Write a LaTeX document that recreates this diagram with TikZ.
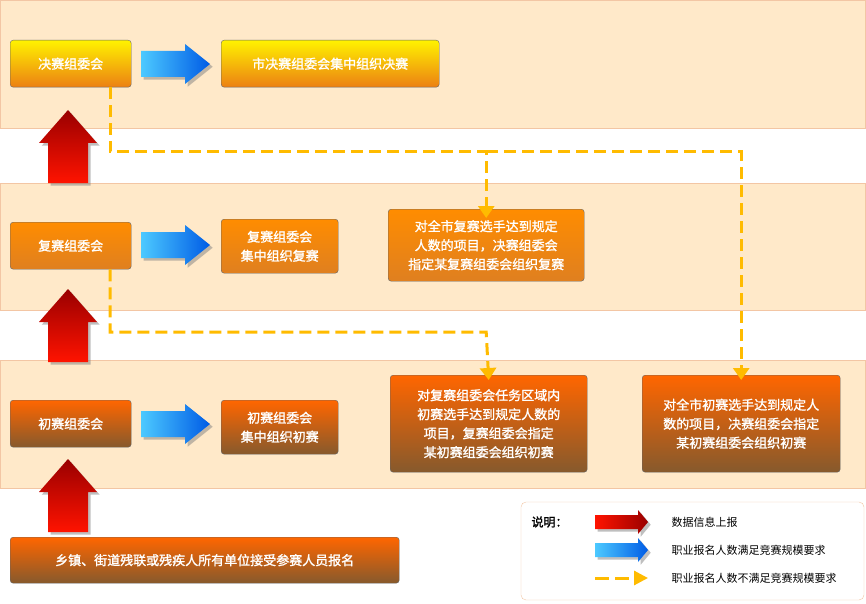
\documentclass[tikz,border=0pt]{standalone}
\usepackage{fontspec}
\setmainfont{Noto Sans CJK SC}[AutoFakeBold=1.5]
\usetikzlibrary{arrows.meta,positioning,shadows}

\definecolor{bandfill}{HTML}{FFE9C9}
\definecolor{bandline}{HTML}{F3C6A4}
\definecolor{dashc}{HTML}{FFBB00}

\tikzset{
  band/.style={fill=bandfill, draw=bandline},
  box/.style={draw=gray!80!black, rounded corners=3pt, text=white, font=\bfseries\fontsize{13}{19}\selectfont, align=center, inner sep=0pt, anchor=north west},
  jbox/.style={box, top color=yellow!90!orange, bottom color=orange!70!brown},
  fbox/.style={box, top color=orange!90!yellow, bottom color=orange!50!brown},
  cbox/.style={box, top color=orange!80!red, bottom color=brown!70!black},
  flow/.style={dashc, line width=3pt, dash pattern=on 12pt off 6pt, -{Triangle[length=12pt,width=16pt]}},
  legend/.style={font=\fontsize{11}{13}\selectfont, anchor=west}
}
\newcommand{\upar}[2]{% x, y of base
  \shade[top color=red!60!black, bottom color=red!85!orange, drop shadow]
    (#1-20,#2) -- (#1-20,#2-40) -- (#1-29,#2-40) -- (#1,#2-73) -- (#1+29,#2-40) -- (#1+20,#2-40) -- (#1+20,#2) -- cycle;}
\newcommand{\rightar}[2]{% x of tail, y of center
  \shade[left color=cyan!70!blue!70, right color=blue!60!cyan!90!black, drop shadow]
    (#1,#2-13) -- (#1+44,#2-13) -- (#1+44,#2-20) -- (#1+69,#2) -- (#1+44,#2+20) -- (#1+44,#2+13) -- (#1,#2+13) -- cycle;}

\begin{document}
\begin{tikzpicture}[x=1pt,y=-1pt]
\useasboundingbox (0,0) rectangle (866,604);

% bands
\draw[band] (0,0) rectangle (865,128);
\draw[band] (0,183) rectangle (865,310);
\draw[band] (0,360) rectangle (865,488);

% boxes
\node (jue) [jbox, minimum width=121pt, minimum height=47pt] at (10,40) {决赛组委会};
\node (jueJZ) [jbox, minimum width=218pt, minimum height=47pt] at (221,40) {市决赛组委会集中组织决赛};
\node (fu) [fbox, minimum width=121pt, minimum height=47pt] at (10,222) {复赛组委会};
\node (fuJZ) [fbox, minimum width=117pt, minimum height=54pt] at (221,219) {复赛组委会\\集中组织复赛};
\node (fuZD) [fbox, minimum width=196pt, minimum height=72pt] at (388,209) {对全市复赛选手达到规定\\人数的项目，决赛组委会\\指定某复赛组委会组织复赛};
\node (chu) [cbox, minimum width=121pt, minimum height=47pt] at (10,400) {初赛组委会};
\node (chuJZ) [cbox, minimum width=117pt, minimum height=54pt] at (221,400) {初赛组委会\\集中组织初赛};
\node (chuZD) [cbox, minimum width=197pt, minimum height=97pt] at (390,375) {对复赛组委会任务区域内\\初赛选手达到规定人数的\\项目，复赛组委会指定\\某初赛组委会组织初赛};
\node (chuQS) [cbox, minimum width=198pt, minimum height=97pt] at (642,375) {对全市初赛选手达到规定人\\数的项目，决赛组委会指定\\某初赛组委会组织初赛};
\node (baoming) [cbox, minimum width=389pt, minimum height=46pt] at (10,537) {乡镇、街道残联或残疾人所有单位接受参赛人员报名};

% red up arrows
\upar{68}{183}
\upar{68}{362}
\upar{68}{532}

% blue arrows
\rightar{141}{64}
\rightar{141}{245}
\rightar{141}{424}

% dashed routes
\coordinate (c1) at (110,152);
\coordinate (c2) at (110,332);
\draw[flow] (jue.south -| c1) -- (c1) -- (c1 -| fuZD.north) -- ([yshift=-9pt]fuZD.north);
\draw[flow] (c1 -| fuZD.north) -- (c1 -| chuQS.north) -- ([yshift=-5pt]chuQS.north);
\draw[flow] (fu.south -| c2) -- (c2) -- (c2 -| fuZD.north) -- ([yshift=-5pt]chuZD.north);

% legend
\draw[bandline, fill=white, rounded corners=5pt] (521,502) rectangle (864,600);
\node (shuoming) [legend, font=\bfseries\fontsize{12}{13}\selectfont] at (528,522) {说明：};
\shade[left color=red!85!orange, right color=red!60!black, drop shadow]
  (595,515) -- (638,515) -- (638,510) -- (648,522) -- (638,534) -- (638,529) -- (595,529) -- cycle;
\shade[left color=cyan!70!blue!70, right color=blue!60!cyan!90!black, drop shadow]
  (595,543) -- (638,543) -- (638,538) -- (648,550) -- (638,562) -- (638,557) -- (595,557) -- cycle;
\coordinate (lgA) at (595,578);
\coordinate (lgB) at (648,578);
\draw[flow, dash pattern=on 14pt off 6pt, -{Triangle[length=14pt,width=14pt]}] (lgA) -- (lgB);
\node (lg1) [legend] at (668,522) {数据信息上报};
\node (lg2) [legend] at (668,550) {职业报名人数满足竞赛规模要求};
\node (lg3) [legend] at (668,578) {职业报名人数不满足竞赛规模要求};
\end{tikzpicture}
\end{document}
